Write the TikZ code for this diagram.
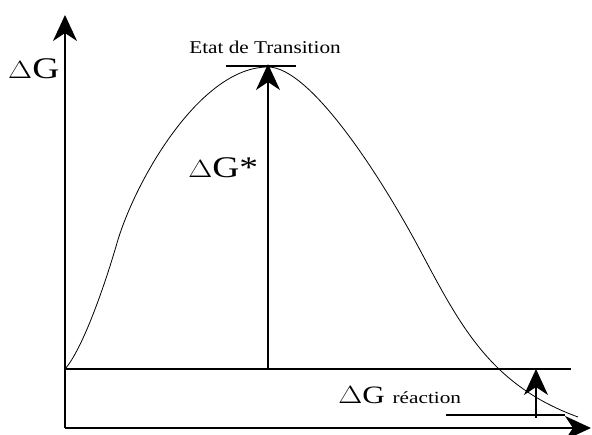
\documentclass[tikz,border=0pt]{standalone}
\usepackage{fontspec}
\setmainfont{Liberation Serif}
\usetikzlibrary{arrows.meta}
\begin{document}
\begin{tikzpicture}[x=1pt,y=-1pt,
  axis/.style={line width=1.8pt,-{Stealth[length=26pt,width=24pt,inset=8pt]}},
  levelline/.style={line width=1.2pt},
  curve/.style={line width=0.8pt},
  bigarrow/.style={line width=1.4pt,-{Stealth[length=26pt,width=24pt,inset=8pt]}},
  lab/.style={inner sep=0pt,xscale=1.25,font=\fontsize{30}{30}\selectfont}]
\useasboundingbox (0,0) rectangle (592,435);
% axes
\coordinate (O) at (65,428);
\coordinate (ytop) at (65,15);
\coordinate (xend) at (591,428);
\draw[axis] (O) -- (ytop);
\draw[axis] (O) -- (xend);
% levels
\coordinate (r0) at (65,369);
\coordinate (r1) at (571,369);
\draw[levelline] (r0) -- (r1);
\coordinate (p0) at (446,415);
\coordinate (p1) at (565,415);
\draw[levelline] (p0) -- (p1);
\coordinate (t0) at (226,66);
\coordinate (t1) at (296,66);
\draw[levelline] (t0) -- (t1);
% curve
\draw[curve] (r0) .. controls (82,350) and (104,288) .. (117,243)
  .. controls (135,181) and (200,67) .. (268,67)
  .. controls (310,67) and (380,175) .. (420,250)
  .. controls (460,325) and (490,385) .. (578,417);
% arrows
\coordinate (a0) at (268,369);
\coordinate (a1) at (268,64);
\draw[bigarrow] (a0) -- (a1);
\coordinate (b0) at (536,418);
\coordinate (b1) at (536,369);
\draw[bigarrow] (b0) -- (b1);
% labels
\node[lab,anchor=south west] (dG) at (8,79) {$\Delta$G};
\node[lab,anchor=south west] (dGs) at (188,178) {$\Delta$G*};
\node[inner sep=0pt,xscale=1.18,anchor=base,font=\fontsize{18}{18}\selectfont] (ts) at (265,54) {Etat de Transition};
\node[inner sep=0pt,xscale=1.25,anchor=base west,font=\fontsize{25}{25}\selectfont] (dGr) at (338,404) {$\Delta$G {\fontsize{17}{17}\selectfont réaction}};
\end{tikzpicture}
\end{document}
